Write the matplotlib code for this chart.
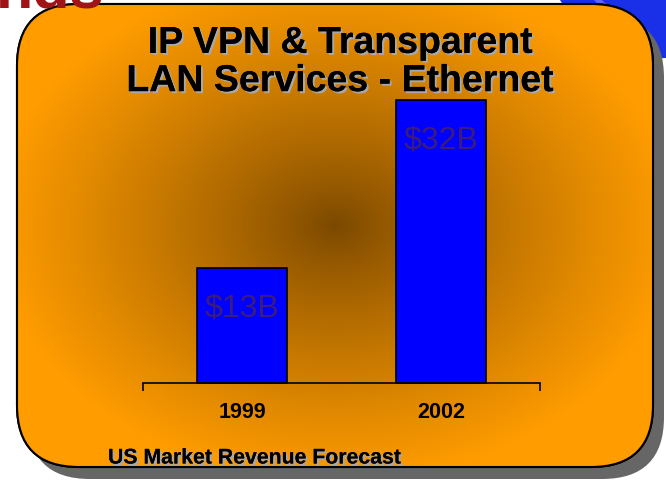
import numpy as np
import matplotlib
matplotlib.use("Agg")
import matplotlib.pyplot as plt
from matplotlib.patches import FancyBboxPatch, Polygon
import matplotlib.patheffects as pe

# 数据
years = ["1999", "2002"]
revenue = [13, 32]          # 十亿美元
bar_labels = ["$13B", "$32B"]
title_lines = "IP VPN & Transparent\nLAN Services - Ethernet"
footnote = "US Market Revenue Forecast"

W, H = 666, 482
fig = plt.figure(figsize=(W / 100, H / 100), dpi=100)
fig.patch.set_facecolor("white")

##背景层，用像素坐标##
bg = fig.add_axes([0, 0, 1, 1])
bg.set_xlim(0, W)
bg.set_ylim(H, 0)
bg.axis("off")

# 右上角蓝色块
bg.add_patch(Polygon([(560, 0), (666, 0), (666, 58), (600, 62)], closed=True,
                     facecolor="#1a30e8", edgecolor="none", zorder=0))
bg.plot([598, 614], [0, 16], color="#8090ff", lw=4, alpha=0.6, zorder=0.5)

x0, y0, x1, y1 = 17, 4, 653, 467
rad = 62
# 阴影
shadow = FancyBboxPatch((x0 + rad + 11, y0 + rad + 12), (x1 - x0) - 2 * rad, (y1 - y0) - 2 * rad,
                        boxstyle=f"round,pad={rad}", facecolor="#666666", edgecolor="none", zorder=1)
bg.add_patch(shadow)
# 橙色面板
panel = FancyBboxPatch((x0 + rad, y0 + rad), (x1 - x0) - 2 * rad, (y1 - y0) - 2 * rad,
                       boxstyle=f"round,pad={rad}", facecolor="#ff9c00", edgecolor="black",
                       lw=1.5, zorder=2)
bg.add_patch(panel)

# 径向渐变
gx, gy = np.meshgrid(np.arange(W), np.arange(H))
d = np.sqrt(((gx - 335) / 340.0) ** 2 + ((gy - 225) / 255.0) ** 2)
t = np.clip(d, 0, 1) ** 0.85
dark = np.array([0x7a, 0x48, 0x00]) / 255
light = np.array([0xff, 0x9c, 0x00]) / 255
img = dark[None, None, :] + (light - dark)[None, None, :] * t[..., None]
im = bg.imshow(img, extent=(0, W, H, 0), zorder=2.1, interpolation="bilinear")
im.set_clip_path(panel)
border = FancyBboxPatch((x0 + rad, y0 + rad), (x1 - x0) - 2 * rad, (y1 - y0) - 2 * rad,
                        boxstyle=f"round,pad={rad}", facecolor="none", edgecolor="black",
                        lw=1.5, zorder=2.2)
bg.add_patch(border)

# 左上角红色标题残留（只露出底部）
bg.text(-4, 8, "nds", color="#a01418", fontsize=44, fontweight="bold",
        family="Liberation Sans", ha="left", va="baseline", zorder=2.5)

shadow_fx = [pe.withSimplePatchShadow(offset=(1.5, -1.5), shadow_rgbFace="#a8a8a8", alpha=1), pe.Normal()]
bg.text(340, 62, title_lines, ha="center", va="center", fontsize=27, fontweight="bold",
        family="Liberation Sans", linespacing=1.08, color="black", zorder=3, path_effects=shadow_fx)
bg.text(108, 458, footnote, ha="left", va="center", fontsize=15.3, fontweight="bold",
        family="Liberation Sans", color="black", zorder=3, path_effects=shadow_fx)

##柱状图##
ax_top, ax_bottom = 60, 383
ax = fig.add_axes([143 / W, 1 - ax_bottom / H, (540 - 143) / W, (ax_bottom - ax_top) / H])
ax.set_zorder(5)
ax.patch.set_visible(False)
scale = (383 - 100) / revenue[1]
ax.set_ylim(0, (ax_bottom - ax_top) / scale)
ax.set_xlim(0, len(years))
xs = np.arange(len(years)) + 0.5
ax.bar(xs, revenue, width=0.455, color="#0000ff", edgecolor="black", lw=1.2, clip_on=False)
for x, v, lab in zip(xs, revenue, bar_labels):
    ax.text(x, v - 4.6, lab, ha="center", va="center", fontsize=23, color="#3c1c7a",
            family="Liberation Sans")
for sp in ["top", "right", "left"]:
    ax.spines[sp].set_visible(False)
ax.spines["bottom"].set_linewidth(1.2)
ax.set_yticks([])
ax.set_xticks([0, 2])
ax.set_xticklabels(["", ""])
ax.tick_params(axis="x", length=6, width=1.2, direction="out")
for x, yr in zip(xs, years):
    ax.text(x, -3.3, yr, ha="center", va="center", fontsize=15.5, fontweight="bold",
            family="Liberation Sans", color="black", transform=ax.transData)

plt.savefig("out.png", dpi=100)
